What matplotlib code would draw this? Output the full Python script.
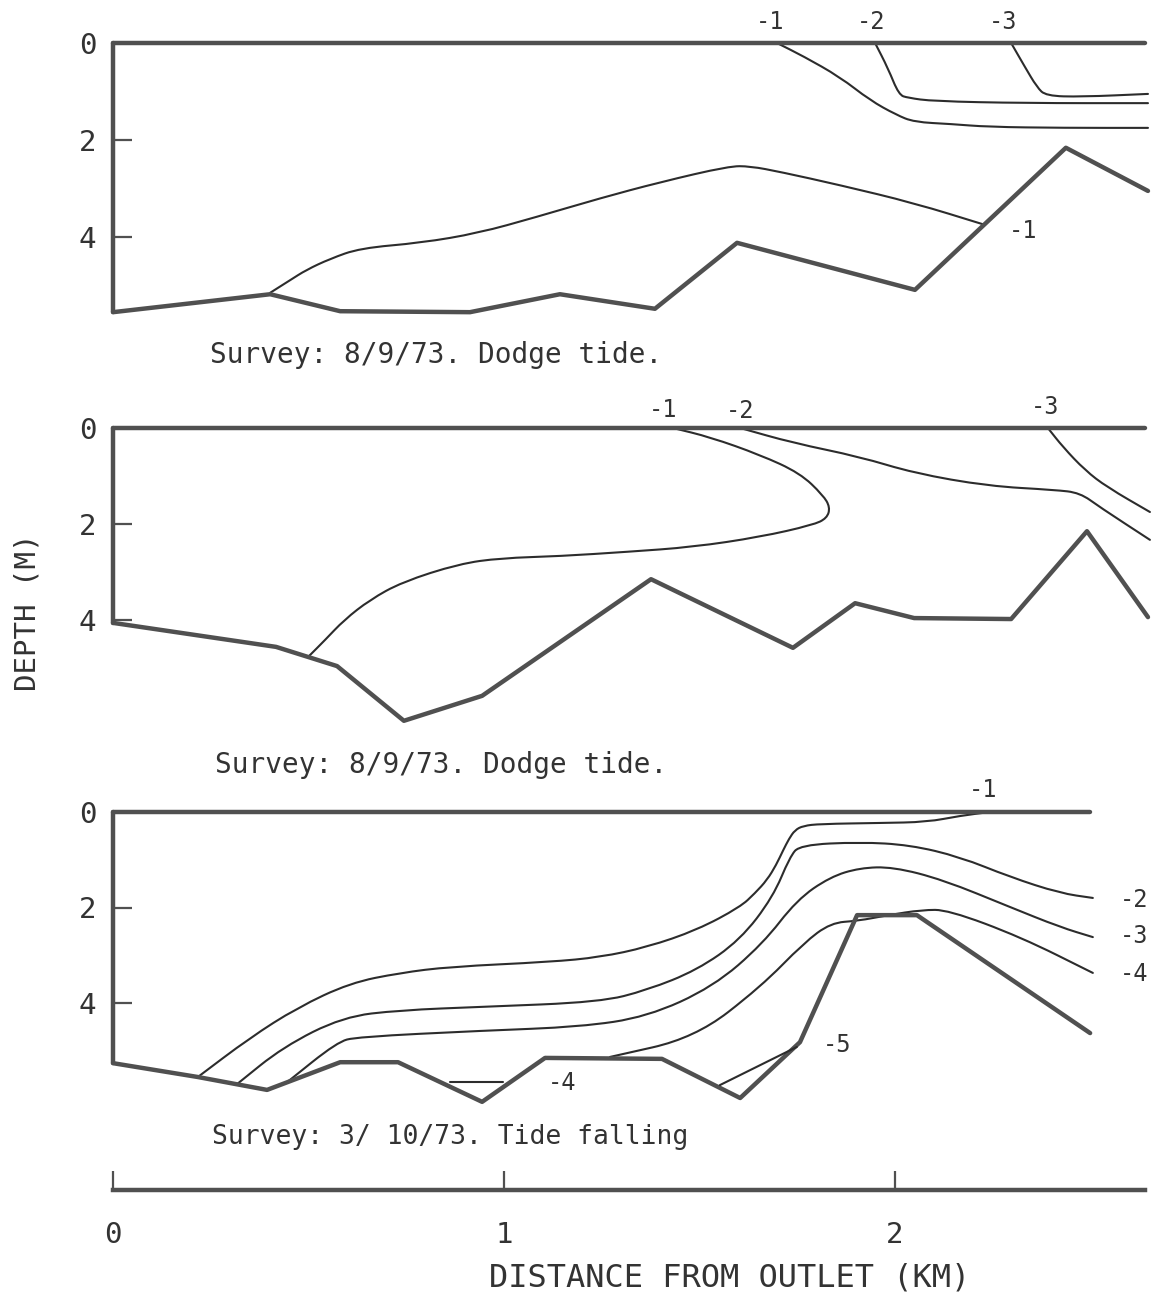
import matplotlib
matplotlib.use("Agg")
import matplotlib.pyplot as plt
from matplotlib.path import Path
from matplotlib.patches import PathPatch

# ---------------------------------------------------------------- data
# Distances along the channel in km, depths below surface in m.

# Survey 8/9/73 (first section)
p1_bed_km = [0.0, 0.402, 0.581, 0.913, 1.143, 1.386, 1.596, 2.051, 2.437, 2.647]
p1_bed_m = [5.55, 5.18, 5.53, 5.55, 5.18, 5.48, 4.12, 5.09, 2.16, 3.05]
p1_surface_km = [0.0, 2.64]

p1_c1_top_km = [1.698, 1.765, 1.859, 1.936, 2.003, 2.049, 2.143, 2.238, 2.430, 2.647]
p1_c1_top_m = [0.0, 0.27, 0.70, 1.18, 1.48, 1.63, 1.67, 1.73, 1.75, 1.75]
p1_c2_km = [1.949, 1.982, 2.010, 2.033, 2.097, 2.332, 2.647]
p1_c2_m = [0.0, 0.52, 1.07, 1.13, 1.20, 1.24, 1.24]
p1_c3_km = [2.297, 2.332, 2.363, 2.386, 2.476, 2.647]
p1_c3_m = [0.0, 0.49, 0.91, 1.09, 1.11, 1.05]
p1_c1_bot_km = [0.402, 0.453, 0.494, 0.555, 0.632, 0.788, 0.934, 1.082, 1.246,
                1.399, 1.575, 1.629, 1.708, 1.859, 2.049, 2.230]
p1_c1_bot_m = [5.15, 4.89, 4.68, 4.45, 4.23, 4.12, 3.92, 3.59, 3.20,
               2.87, 2.54, 2.54, 2.66, 2.93, 3.30, 3.75]

# Survey 8/9/73 (second section)
p2_bed_km = [0.0, 0.417, 0.573, 0.744, 0.944, 1.376, 1.739, 1.898, 2.049, 2.297, 2.491, 2.647]
p2_bed_m = [4.06, 4.56, 4.96, 6.10, 5.58, 3.15, 4.58, 3.65, 3.96, 3.98, 2.15, 3.94]
p2_surface_km = [0.0, 2.64]

p2_c1_km = [0.499, 0.542, 0.591, 0.657, 0.739, 0.885, 0.992, 1.143, 1.315, 1.483,
            1.655, 1.790, 1.826, 1.834, 1.816, 1.757, 1.655, 1.527, 1.432]
p2_c1_m = [4.77, 4.42, 4.00, 3.58, 3.21, 2.83, 2.71, 2.67, 2.58, 2.48,
           2.27, 2.02, 1.88, 1.65, 1.40, 0.94, 0.56, 0.19, 0.0]
p2_c2_km = [1.604, 1.739, 1.910, 2.049, 2.238, 2.409, 2.473, 2.524, 2.652]
p2_c2_m = [0.0, 0.31, 0.60, 0.94, 1.21, 1.29, 1.35, 1.65, 2.33]
p2_c3_km = [2.391, 2.430, 2.486, 2.542, 2.652]
p2_c3_m = [0.0, 0.40, 0.88, 1.23, 1.75]

# Survey 3/10/73
p3_bed_km = [0.0, 0.217, 0.394, 0.581, 0.729, 0.944, 1.105, 1.404, 1.604, 1.757,
             1.903, 2.056, 2.499]
p3_bed_m = [5.26, 5.55, 5.82, 5.24, 5.24, 6.07, 5.15, 5.17, 5.99, 4.82,
            2.16, 2.16, 4.63]
p3_surface_km = [0.0, 2.499]

p3_c1_km = [0.217, 0.350, 0.471, 0.606, 0.734, 0.862, 1.118, 1.246, 1.366, 1.494,
            1.604, 1.642, 1.673, 1.696, 1.714, 1.729, 1.744, 1.765, 1.808, 1.962,
            2.082, 2.166, 2.243]
p3_c1_m = [5.55, 4.73, 4.10, 3.58, 3.37, 3.24, 3.14, 3.04, 2.83, 2.47,
           1.99, 1.70, 1.42, 1.11, 0.80, 0.56, 0.38, 0.29, 0.25, 0.23,
           0.21, 0.08, 0.0]
p3_c2_km = [0.317, 0.435, 0.588, 0.734, 0.946, 1.246, 1.366, 1.494, 1.604, 1.688,
            1.731, 1.757, 1.910, 2.038, 2.166, 2.294, 2.422, 2.506]
p3_c2_m = [5.70, 4.92, 4.29, 4.15, 4.08, 3.98, 3.73, 3.31, 2.68, 1.78,
           0.94, 0.69, 0.63, 0.69, 0.94, 1.36, 1.70, 1.80]
p3_c3_km = [0.445, 0.573, 0.624, 0.946, 1.194, 1.366, 1.535, 1.662, 1.749, 1.834,
            1.910, 1.995, 2.123, 2.294, 2.422, 2.506]
p3_c3_m = [5.66, 4.82, 4.71, 4.58, 4.50, 4.29, 3.66, 2.76, 1.84, 1.36,
           1.17, 1.15, 1.42, 1.99, 2.41, 2.62]
p3_c4_km = [1.271, 1.488, 1.657, 1.767, 1.836, 1.905, 1.982, 2.069, 2.136, 2.322, 2.506]
p3_c4_m = [5.13, 4.73, 3.66, 2.74, 2.32, 2.28, 2.16, 2.05, 2.05, 2.62, 3.37]
p3_c4_pool_km = [0.862, 0.997]
p3_c4_pool_m = [5.65, 5.65]
p3_c5_km = [1.552, 1.749]
p3_c5_m = [5.72, 4.92]

# contour labels: (text, km, m, alignment)
p1_labels = [("-1", 1.680, -0.43, "center"), ("-2", 1.939, -0.43, "center"),
             ("-3", 2.276, -0.43, "center"), ("-1", 2.290, 3.88, "left")]
p2_labels = [("-1", 1.407, -0.38, "center"), ("-2", 1.604, -0.36, "center"),
             ("-3", 2.384, -0.44, "center")]
p3_labels = [("-1", 2.225, -0.46, "center"), ("-2", 2.575, 1.84, "left"),
             ("-3", 2.575, 2.60, "left"), ("-4", 2.575, 3.40, "left"),
             ("-4", 1.112, 5.67, "left"), ("-5", 1.815, 4.88, "left")]

captions = ["Survey: 8/9/73. Dodge tide.",
            "Survey: 8/9/73. Dodge tide.",
            "Survey: 3/ 10/73. Tide falling"]
depth_ticks = [0, 2, 4]
distance_ticks = [0, 1, 2]

# ---------------------------------------------------------------- layout
W, H = 1162, 1295
KM_PX = 391.0
X0_PX = 113
THICK = "#505050"
THIN = "#2c2c2c"
TEXT = "#333333"
MONO = "DejaVu Sans Mono"

fig = plt.figure(figsize=(W / 100, H / 100), dpi=100)
fig.patch.set_facecolor("white")


def px_box(left, top, right, bottom):
    return [left / W, 1 - bottom / H, (right - left) / W, (bottom - top) / H]


def make_panel(top_px, bot_px, zero_px, m_px, bed_start):
    ax = fig.add_axes(px_box(X0_PX, top_px, W, bot_px))
    ax.set_xlim(0, (W - X0_PX) / KM_PX)
    ax.set_ylim((bot_px - zero_px) / m_px, (top_px - zero_px) / m_px)
    ax.set_facecolor("none")
    for side in ("top", "right", "bottom"):
        ax.spines[side].set_visible(False)
    ax.spines["left"].set_bounds(0, bed_start)
    ax.spines["left"].set_linewidth(3.2)
    ax.spines["left"].set_color(THICK)
    ax.spines["left"].set_capstyle("round")
    ax.set_xticks([])
    ax.set_yticks(depth_ticks)
    ax.set_yticklabels([str(t) for t in depth_ticks], family=MONO,
                       fontsize=21, color=TEXT)
    ax.tick_params(axis="y", direction="in", length=13.5, width=1.6,
                   color=THICK, pad=12)
    return ax


def thick(ax, x, y):
    ax.plot(x, y, color=THICK, lw=3.2, solid_capstyle="round",
            solid_joinstyle="round", clip_on=False)


def thin(ax, x, y):
    """Contour line drawn as a rounded path through its surveyed points."""
    pts = list(zip(x, y))
    if len(pts) < 3:
        ax.plot(x, y, color=THIN, lw=1.5, solid_capstyle="round", clip_on=False)
        return
    verts = [pts[0]]
    codes = [Path.MOVETO]
    for i in range(1, len(pts) - 1):
        mid_prev = ((pts[i - 1][0] + pts[i][0]) / 2, (pts[i - 1][1] + pts[i][1]) / 2)
        mid_next = ((pts[i][0] + pts[i + 1][0]) / 2, (pts[i][1] + pts[i + 1][1]) / 2)
        if i == 1:
            verts.append(mid_prev)
            codes.append(Path.LINETO)
        verts += [pts[i], mid_next]
        codes += [Path.CURVE3, Path.CURVE3]
    verts.append(pts[-1])
    codes.append(Path.LINETO)
    ax.add_patch(PathPatch(Path(verts, codes), fill=False, edgecolor=THIN,
                           lw=1.5, capstyle="round", joinstyle="round",
                           clip_on=False))


def labels(ax, items):
    for text, x, y, ha in items:
        ax.text(x, y, text, family=MONO, fontsize=17, color=TEXT,
                ha=ha, va="center")


# first section
ax1 = make_panel(10, 335, 43, 48.5, p1_bed_m[0])
thick(ax1, p1_surface_km, [0, 0])
thick(ax1, p1_bed_km, p1_bed_m)
thin(ax1, p1_c1_top_km, p1_c1_top_m)
thin(ax1, p1_c2_km, p1_c2_m)
thin(ax1, p1_c3_km, p1_c3_m)
thin(ax1, p1_c1_bot_km, p1_c1_bot_m)
labels(ax1, p1_labels)

# second section
ax2 = make_panel(395, 730, 428, 48.0, p2_bed_m[0])
thick(ax2, p2_surface_km, [0, 0])
thick(ax2, p2_bed_km, p2_bed_m)
thin(ax2, p2_c1_km, p2_c1_m)
thin(ax2, p2_c2_km, p2_c2_m)
thin(ax2, p2_c3_km, p2_c3_m)
labels(ax2, p2_labels)

# third section
ax3 = make_panel(780, 1110, 812, 47.75, p3_bed_m[0])
thick(ax3, p3_surface_km, [0, 0])
thick(ax3, p3_bed_km, p3_bed_m)
for xs, ys in [(p3_c1_km, p3_c1_m), (p3_c2_km, p3_c2_m), (p3_c3_km, p3_c3_m),
               (p3_c4_km, p3_c4_m), (p3_c4_pool_km, p3_c4_pool_m),
               (p3_c5_km, p3_c5_m)]:
    thin(ax3, xs, ys)
labels(ax3, p3_labels)

# survey captions
for (left_px, y_px), cap in zip([(210, 355), (215, 765), (212, 1137)], captions):
    fig.text(left_px / W, 1 - y_px / H, cap, family=MONO,
             fontsize=20 if "Dodge" in cap else 19, color=TEXT,
             ha="left", va="center")

# distance scale bar
axs = fig.add_axes(px_box(X0_PX, 1150, 1145, 1190))
axs.set_xlim(0, (1145 - X0_PX) / KM_PX)
axs.set_ylim(0, 1)
axs.set_facecolor("none")
for side in ("top", "right", "left"):
    axs.spines[side].set_visible(False)
axs.spines["bottom"].set_linewidth(3.2)
axs.spines["bottom"].set_color(THICK)
axs.set_yticks([])
axs.set_xticks(distance_ticks)
axs.set_xticklabels([str(t) for t in distance_ticks], family=MONO,
                    fontsize=21, color=TEXT)
axs.tick_params(axis="x", direction="in", length=14, width=1.6,
                color=THICK, pad=22)

# axis titles
fig.text(730 / W, 1 - 1278 / H, "DISTANCE FROM OUTLET (KM)", family=MONO,
         fontsize=23, color=TEXT, ha="center", va="center")
fig.text(28 / W, 1 - 612 / H, "DEPTH (M)", family=MONO, fontsize=21,
         color=TEXT, ha="center", va="center", rotation=90)

fig.savefig("out.png", dpi=100, facecolor="white")
